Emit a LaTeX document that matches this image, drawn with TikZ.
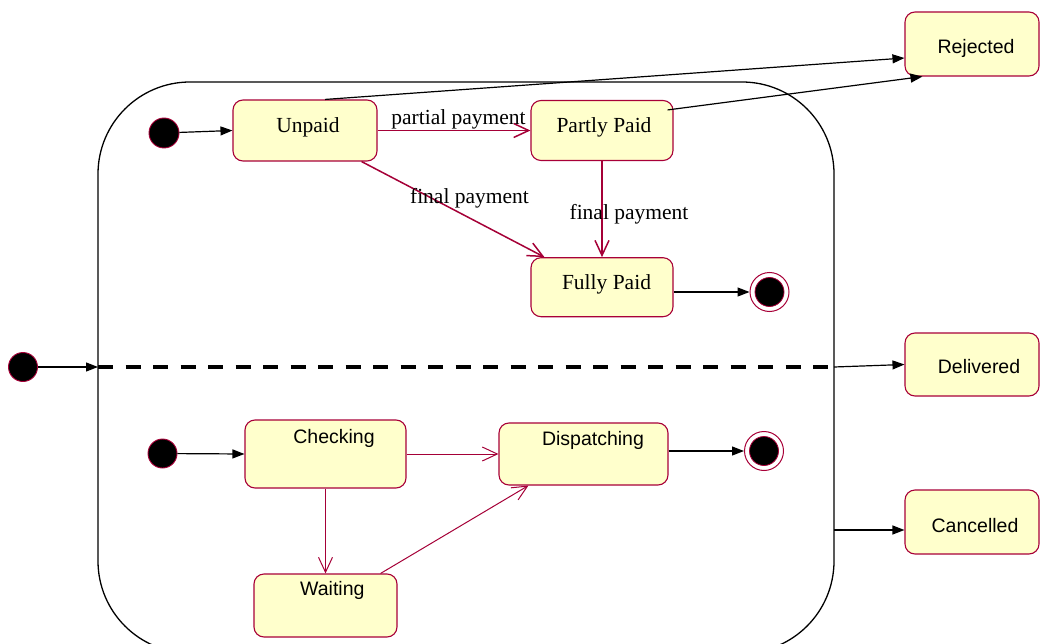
\documentclass[tikz,border=0pt]{standalone}
\usepackage{fontspec}
\setmainfont{Liberation Serif}
\newfontfamily\sansf{Liberation Sans}
\usetikzlibrary{arrows.meta,calc}

\definecolor{statefill}{RGB}{255,255,204}
\definecolor{stateline}{RGB}{168,0,56}
\definecolor{transred}{RGB}{165,0,55}

\tikzset{
  statebox/.style={draw=stateline, line width=1.1pt, fill=statefill,
    rounded corners=10pt, inner sep=0pt},
  serifstate/.style={font=\fontsize{21.5}{24}\selectfont, anchor=base, inner sep=0pt},
  sansstate/.style={font=\sansf\fontsize{19.5}{22}\selectfont, anchor=base, inner sep=0pt},
  translabel/.style={font=\fontsize{21.5}{24}\selectfont, anchor=base, inner sep=0pt},
  initial/.style={circle, fill=black, draw=stateline, line width=0.9pt,
    minimum size=#1, inner sep=0pt},
  finalring/.style={circle, fill=white, draw=stateline, line width=1pt,
    minimum size=39pt, inner sep=0pt},
  finaldot/.style={circle, fill=black, draw=stateline, line width=0.8pt,
    minimum size=29pt, inner sep=0pt},
  blackarrow/.style={draw=black, line width=1.2pt,
    -{Triangle[length=12pt,width=9pt]}},
  redarrow/.style={draw=transred, line width=#1,
    -{Straight Barb[length=15pt,width=14pt,line width=#1]}},
  redarrow/.default=1.5pt
}

\begin{document}
\begin{tikzpicture}[x=1pt,y=-1pt]
\useasboundingbox (0,0) rectangle (1040,644);

% composite state outline, running past the lower edge
\begin{scope}
  \clip (0,0) rectangle (1040,644);
  \draw[line width=1.3pt, rounded corners=92pt] (98,82) rectangle (834,653);
\end{scope}

% region separator
\coordinate (sepL) at (98,367);
\coordinate (sepR) at (834,367);
\coordinate (cancelOut) at (834,530);
\draw[line width=4.5pt, dash pattern=on 15pt off 12.5pt] (sepL) -- (sepR);

% outer states
\node[statebox, minimum width=134pt, minimum height=64pt] (rej) at (972,44) {};
\node[sansstate] (rejT) at (976,54) {Rejected};
\node[statebox, minimum width=134pt, minimum height=63pt] (del) at (972,364.5) {};
\node[sansstate] (delT) at (979,373.3) {Delivered};
\node[statebox, minimum width=134pt, minimum height=64pt] (can) at (972,522) {};
\node[sansstate] (canT) at (975,532.3) {Cancelled};

\node[initial=29pt] (init0) at (23,367) {};

% payment region
\node[initial=30pt] (init1) at (164,133) {};
\node[statebox, minimum width=144pt, minimum height=61pt] (unp) at (305,130.5) {};
\node[serifstate] (unpT) at (308,132.7) {Unpaid};
\node[statebox, minimum width=142pt, minimum height=60pt] (pp) at (602,130.5) {};
\node[serifstate] (ppT) at (604,132.3) {Partly Paid};
\node[statebox, minimum width=142pt, minimum height=59pt] (fp) at (602,287.2) {};
\node[serifstate] (fpT) at (606.5,289) {Fully Paid};
\node[finalring] (fin1) at (769.5,292) {};
\node[finaldot] (fin1d) at (769.5,292) {};

% delivery region
\node[initial=29pt] (init2) at (162.5,453.5) {};
\node[statebox, minimum width=161pt, minimum height=68pt] (chk) at (325.5,454) {};
\node[sansstate] (chkT) at (334,443) {Checking};
\node[statebox, minimum width=143pt, minimum height=63pt] (wait) at (325.5,605.5) {};
\node[sansstate] (waitT) at (332.3,595) {Waiting};
\node[statebox, minimum width=169pt, minimum height=62pt] (disp) at (583.5,454) {};
\node[sansstate] (dispT) at (593,445.7) {Dispatching};
\node[finalring] (fin2) at (764,451) {};
\node[finaldot] (fin2d) at (764,451) {};

% transitions of the payment region
\draw[blackarrow] (init1) -- (unp.west);
\draw[redarrow] (unp.east) -- (pp.west);
\node[translabel] (lblPartial) at (458.5,124.3) {partial payment};
\draw[redarrow] ($(unp.south east)+(-16,0)$) -- ($(fp.north west)+(14,0)$);
\node[translabel] (lblFinalA) at (469.5,203.3) {final payment};
\draw[redarrow] (pp.south) -- (fp.north);
\node[translabel] (lblFinalB) at (629,220) {final payment};
\draw[blackarrow] (fin1.west -| fp.east) -- (fin1.west);

% transitions of the delivery region
\draw[blackarrow] (init2) -- (chk.west);
\draw[redarrow=1pt] (chk.south) -- (wait.north);
\draw[redarrow=1pt] (chk.east) -- (disp.west);
\draw[redarrow=1pt] ($(wait.north east)+(-17,0)$) -- ($(disp.south west)+(30,0)$);
\draw[blackarrow] (fin2.west -| disp.east) -- (fin2.west);

% transitions entering and leaving the composite state
\draw[blackarrow] (init0) -- (sepL);
\draw[blackarrow] ($(unp.north)+(20,0)$) -- ($(rej.west)+(0,14)$);
\draw[blackarrow] ($(pp.north east)+(-6,10)$) -- ($(rej.south west)+(18,0)$);
\draw[blackarrow] (sepR) -- (del.west);
\draw[blackarrow] (cancelOut) -- (cancelOut -| can.west);
\end{tikzpicture}
\end{document}
